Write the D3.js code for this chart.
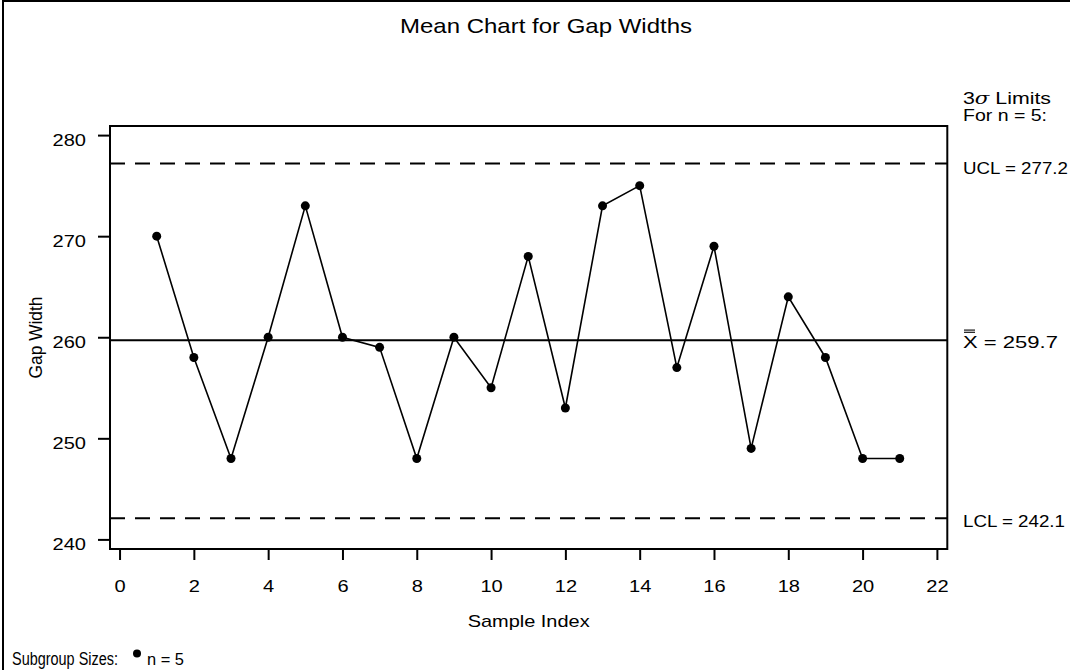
<!DOCTYPE html>
<html>
<head>
<meta charset="utf-8">
<script src="https://cdn.jsdelivr.net/npm/d3@7"></script>
<style>
    body { margin: 0; background: #fff; }
    svg { display: block; font-family: "Liberation Sans", Arial, sans-serif; }
    .axis text { font-size: 17px; fill: #000; }
    .axis line { stroke: #000; stroke-width: 2px; }
</style>
</head>
<body>
<div id="chart"></div>
<script>
"use strict";

// sample index and subgroup means
var samples = [1, 2, 3, 4, 5, 6, 7, 8, 9, 10, 11, 12, 13, 14, 15, 16, 17, 18, 19, 20, 21];
var gapMeans = [270, 258, 248, 260, 273, 260, 259, 248, 260, 255, 268,
                253, 273, 275, 257, 269, 249, 264, 258, 248, 248];

// control limits (3 sigma, n = 5)
var limitNames = ["UCL", "Xbar", "LCL"];
var limitValues = [277.2, 259.7, 242.1];

var xTicks = [0, 2, 4, 6, 8, 10, 12, 14, 16, 18, 20, 22];
var yTicks = [240, 250, 260, 270, 280];

var width = 1070, height = 670;
// plot frame
var frame = {left: 110, top: 126, right: 947.3, bottom: 549};

var svg = d3.select("#chart").append("svg")
    .attr("width", width)
    .attr("height", height);

// outer border of the graphics area
svg.append("rect")
    .attr("x", 3).attr("y", 1)
    .attr("width", width + 10).attr("height", height + 10)
    .attr("fill", "none").attr("stroke", "#000").attr("stroke-width", 2);

var x = d3.scaleLinear().domain([-0.257, 22.28]).range([frame.left, frame.right]);
var y = d3.scaleLinear().domain([239.05, 280.9]).range([frame.bottom, frame.top]);

// widen a text the way the SAS font is wider
var stretch = function(k) {
    return function() {
        this.setAttribute("textLength", this.getComputedTextLength() * k);
        this.setAttribute("lengthAdjust", "spacingAndGlyphs");
    };
};

// title
svg.append("text")
    .attr("x", 400).attr("y", 33)
    .attr("font-size", 21)
    .attr("textLength", 292).attr("lengthAdjust", "spacingAndGlyphs")
    .text("Mean Chart for Gap Widths");

// axes (frame drawn separately)
var xAxis = d3.axisBottom(x).tickValues(xTicks).tickSize(11).tickPadding(20);
var yAxis = d3.axisLeft(y).tickValues(yTicks).tickSize(12).tickPadding(12);

var gx = svg.append("g").attr("class", "x axis")
    .attr("transform", "translate(0," + frame.bottom + ")")
    .call(xAxis);
gx.select(".domain").remove();

var gy = svg.append("g").attr("class", "y axis")
    .attr("transform", "translate(" + frame.left + ",0)")
    .call(yAxis);
gy.select(".domain").remove();
gy.selectAll("text").attr("dy", "0.62em");

svg.selectAll(".axis").attr("font-family", null).attr("font-size", null);
svg.selectAll(".axis text").each(stretch(1.18));

svg.append("text")
    .attr("x", (frame.left + frame.right) / 2).attr("y", 627)
    .attr("text-anchor", "middle").attr("font-size", 17)
    .attr("textLength", 122).attr("lengthAdjust", "spacingAndGlyphs")
    .text("Sample Index");

svg.append("text")
    .attr("transform", "translate(42," + (frame.top + frame.bottom) / 2 + ") rotate(-90)")
    .attr("text-anchor", "middle").attr("font-size", 18)
    .attr("textLength", 82).attr("lengthAdjust", "spacingAndGlyphs")
    .text("Gap Width");

// control limit lines
svg.selectAll("line.limit")
    .data(limitValues)
    .enter().append("line")
    .attr("class", "limit")
    .attr("x1", frame.left).attr("x2", frame.right)
    .attr("y1", function(d) { return y(d); })
    .attr("y2", function(d) { return y(d); })
    .attr("stroke", "#000").attr("stroke-width", 2)
    .attr("stroke-dasharray", function(d, i) { return limitNames[i] === "Xbar" ? null : "15,10"; });

// frame on top of the limit lines
svg.append("rect")
    .attr("x", frame.left).attr("y", frame.top)
    .attr("width", frame.right - frame.left).attr("height", frame.bottom - frame.top)
    .attr("fill", "none").attr("stroke", "#000").attr("stroke-width", 2);

// subgroup means
var line = d3.line()
    .x(function(d, i) { return x(samples[i]); })
    .y(function(d) { return y(d); });

svg.append("path")
    .datum(gapMeans)
    .attr("d", line)
    .attr("fill", "none").attr("stroke", "#000").attr("stroke-width", 1.6);

svg.selectAll("circle.pt")
    .data(gapMeans)
    .enter().append("circle")
    .attr("class", "pt")
    .attr("cx", function(d, i) { return x(samples[i]); })
    .attr("cy", function(d) { return y(d); })
    .attr("r", 4.5)
    .attr("fill", "#000");

// labels at the right of the frame
var labX = 963;
var side = svg.append("g").attr("font-size", 17);

var sig = side.append("text").attr("x", labX).attr("y", 104)
    .attr("textLength", 88).attr("lengthAdjust", "spacingAndGlyphs");
sig.append("tspan").text("3");
sig.append("tspan").attr("font-family", "DejaVu Serif").attr("font-style", "italic").text("σ");
sig.append("tspan").text("  Limits");

side.append("text").attr("x", labX).attr("y", 121)
    .attr("textLength", 84).attr("lengthAdjust", "spacingAndGlyphs")
    .text("For  n = 5:");

var labelWidths = [105, 95, 102];
var labelShift = [10.7, 7.6, 8.9];
limitValues.forEach(function(v, i) {
    var yy = y(v) + labelShift[i];
    var t = side.append("text").attr("x", labX).attr("y", yy)
        .attr("textLength", labelWidths[i]).attr("lengthAdjust", "spacingAndGlyphs");
    if (limitNames[i] === "Xbar") {
        t.text("X = " + v.toFixed(1));
        // double bar over the X
        [0, 2.2].forEach(function(off) {
            side.append("line")
                .attr("x1", labX + 1).attr("x2", labX + 12)
                .attr("y1", yy - 17.8 + off).attr("y2", yy - 17.8 + off)
                .attr("stroke", "#000").attr("stroke-width", 1.1);
        });
    } else {
        t.text(limitNames[i] + " = " + v.toFixed(1));
    }
});

// subgroup size legend
svg.append("text")
    .attr("x", 12).attr("y", 665).attr("font-size", 18)
    .attr("textLength", 106).attr("lengthAdjust", "spacingAndGlyphs")
    .text("Subgroup Sizes:");
svg.append("circle")
    .attr("cx", 137).attr("cy", 653.5).attr("r", 4)
    .attr("fill", "#000");
svg.append("text")
    .attr("x", 147).attr("y", 665).attr("font-size", 17)
    .attr("textLength", 37).attr("lengthAdjust", "spacingAndGlyphs")
    .text("n = 5");
</script>
</body>
</html>
